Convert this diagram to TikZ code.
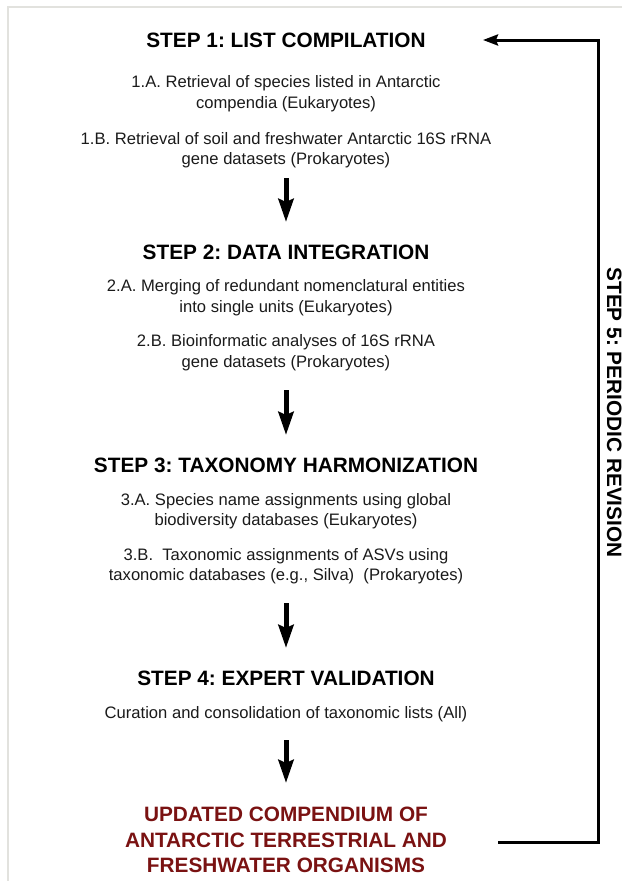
\documentclass[tikz,border=0pt]{standalone}
\usepackage{fontspec}
\setmainfont{Liberation Sans}
\usetikzlibrary{arrows.meta}
\definecolor{txt}{HTML}{1A1A1A}
\definecolor{darkred}{HTML}{7A1212}
\definecolor{frame}{HTML}{E2E2DE}
\frenchspacing
\tikzset{
  head/.style={anchor=base, inner sep=0pt, font=\fontsize{20.8}{24}\selectfont\bfseries, text=black},
  body/.style={anchor=base, inner sep=0pt, font=\fontsize{16.6}{19}\selectfont, text=txt},
  final/.style={anchor=base, inner sep=0pt, font=\fontsize{20.8}{25}\selectfont\bfseries, text=darkred},
  downarrow/.style={line width=5pt, -{Stealth[length=23pt, width=15pt, inset=3pt]}},
  backarrow/.style={line width=3pt, -{Stealth[length=15pt, width=11pt, inset=2pt]}},
}
\begin{document}
\begin{tikzpicture}[x=1pt, y=-1pt]
\useasboundingbox (0,0) rectangle (622,881);
% light frame
\draw[frame, line width=1.5pt] (8,881) -- (8,7) -- (622,7);

% step 1
\node[head] (h1) at (286,47.7) {STEP 1: LIST COMPILATION};
\node[body] (t1a1) at (286,87.3) {1.A. Retrieval of species listed in Antarctic};
\node[body] (t1a2) at (286,108.3) {compendia (Eukaryotes)};
\node[body] (t1b1) at (286,144) {1.B. Retrieval of soil and freshwater Antarctic 16S rRNA};
\node[body] (t1b2) at (286,164.3) {gene datasets (Prokaryotes)};

% step 2
\node[head] (h2) at (286,259) {STEP 2: DATA INTEGRATION};
\node[body] (t2a1) at (286,291.7) {2.A. Merging of redundant nomenclatural entities};
\node[body] (t2a2) at (286,312.3) {into single units (Eukaryotes)};
\node[body] (t2b1) at (286,346.7) {2.B. Bioinformatic analyses of 16S rRNA};
\node[body] (t2b2) at (286,367.3) {gene datasets (Prokaryotes)};

% step 3
\node[head] (h3) at (286,472.7) {STEP 3: TAXONOMY HARMONIZATION};
\node[body] (t3a1) at (286,505) {3.A. Species name assignments using global};
\node[body] (t3a2) at (286,525.7) {biodiversity databases (Eukaryotes)};
\node[body] (t3b1) at (286,560) {3.B.\ \ Taxonomic assignments of ASVs using};
\node[body] (t3b2) at (286,580.7) {taxonomic databases (e.g., Silva)\ \ (Prokaryotes)};

% step 4
\node[head] (h4) at (286,685) {STEP 4: EXPERT VALIDATION};
\node[body] (t4) at (286,718.3) {Curation and consolidation of taxonomic lists (All)};

% final
\node[final] (f1) at (286,821.7) {UPDATED COMPENDIUM OF};
\node[final] (f2) at (286,847.3) {ANTARCTIC TERRESTRIAL AND};
\node[final] (f3) at (286,872.3) {FRESHWATER ORGANISMS};

% step 5 (vertical)
\node[inner sep=0pt, rotate=-90, font=\fontsize{20.8}{24}\selectfont\bfseries, text=black] (s5) at (614.4,412.5) {STEP 5: PERIODIC REVISION};

% down arrows
\coordinate (a1s) at (286,178); \coordinate (a1e) at (286,222);
\coordinate (a2s) at (286,390); \coordinate (a2e) at (286,435);
\coordinate (a3s) at (286,603); \coordinate (a3e) at (286,648);
\coordinate (a4s) at (286,740); \coordinate (a4e) at (286,783);
\draw[downarrow] (a1s) -- (a1e);
\draw[downarrow] (a2s) -- (a2e);
\draw[downarrow] (a3s) -- (a3e);
\draw[downarrow] (a4s) -- (a4e);

% feedback arrow
\coordinate (bs) at (498,842);
\coordinate (bc1) at (598,842);
\coordinate (bc2) at (598,40);
\coordinate (be) at (483,40);
\draw[backarrow] (bs) -- (bc1) -- (bc2) -- (be);
\end{tikzpicture}
\end{document}
